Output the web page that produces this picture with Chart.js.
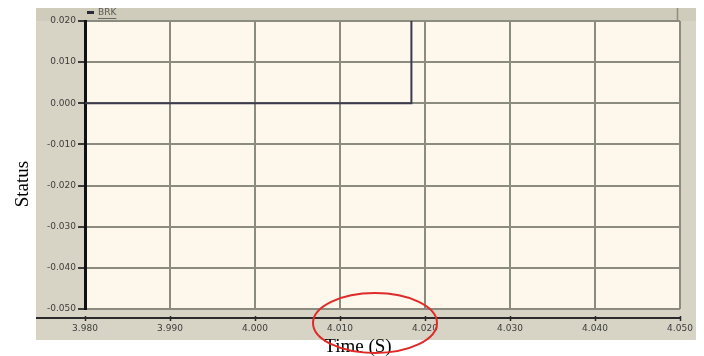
<!DOCTYPE html>
<html>
<head>
<meta charset="utf-8">
<script src="https://cdn.jsdelivr.net/npm/chart.js@4/dist/chart.umd.min.js"></script>
<style>
  html, body { margin: 0; padding: 0; background: #ffffff; }
  #wrap { width: 704px; height: 356px; position: relative; }
</style>
</head>
<body>
<div id="wrap"><canvas id="c" width="704" height="356"></canvas></div>
<script>
// BRK breaker status trace
const seriesName = 'BRK';
const timeS = [3.980, 4.0184, 4.0184];
const brkStatus = [0.000, 0.000, 0.020];

// axis ticks
const xTickValues = [3.980, 3.990, 4.000, 4.010, 4.020, 4.030, 4.040, 4.050];
const yTickValues = [0.020, 0.010, 0.000, -0.010, -0.020, -0.030, -0.040, -0.050];

const xTitle = 'Time (S)';
const yTitle = 'Status';

const points = timeS.map((t, i) => ({ x: t, y: brkStatus[i] }));

// panel, plot fill, separate x axis rule, titles, legend and highlight ring
const decor = {
  id: 'decor',
  beforeDraw(chart) {
    const { ctx, chartArea: a } = chart;
    ctx.save();
    ctx.fillStyle = '#d7d4c5';
    ctx.fillRect(36, 8, 660, 332);
    ctx.fillStyle = '#cfccbb';
    ctx.fillRect(36, 8, 660, 13);
    ctx.fillStyle = '#fdf7ec';
    ctx.fillRect(a.left, a.top, a.right - a.left, a.bottom - a.top);
    ctx.restore();
  },
  afterDraw(chart) {
    const { ctx, chartArea: a } = chart;
    const xs = chart.scales.x;
    ctx.save();
    // upper band divider
    ctx.strokeStyle = '#8f8d80';
    ctx.lineWidth = 1.5;
    ctx.beginPath();
    ctx.moveTo(677.5, 8);
    ctx.lineTo(677.5, a.top);
    ctx.stroke();

    // x axis rule below the plot
    ctx.strokeStyle = '#2a2a2a';
    ctx.lineWidth = 2;
    ctx.beginPath();
    ctx.moveTo(36, 318);
    ctx.lineTo(a.right, 318);
    ctx.stroke();
    ctx.lineWidth = 1.5;
    xTickValues.forEach(v => {
      const px = Math.round(xs.getPixelForValue(v)) + 0.5;
      ctx.beginPath();
      ctx.moveTo(px, 316);
      ctx.lineTo(px, 321);
      ctx.stroke();
    });

    // legend
    ctx.fillStyle = '#2a2a3a';
    ctx.fillRect(87, 11, 7, 3);
    ctx.font = '9px "DejaVu Sans", sans-serif';
    ctx.fillStyle = '#5a5a5a';
    ctx.textBaseline = 'middle';
    ctx.textAlign = 'left';
    ctx.fillText(seriesName, 98, 13);
    const w = ctx.measureText(seriesName).width;
    ctx.strokeStyle = '#6a6a6a';
    ctx.lineWidth = 1;
    ctx.beginPath();
    ctx.moveTo(98, 18.5);
    ctx.lineTo(98 + w, 18.5);
    ctx.stroke();

    // axis titles
    ctx.fillStyle = '#000000';
    ctx.font = '19px "Liberation Serif", "Times New Roman", serif';
    ctx.textAlign = 'center';
    ctx.textBaseline = 'alphabetic';
    ctx.fillText(xTitle, 358, 352);
    ctx.save();
    ctx.translate(28, 184);
    ctx.rotate(-Math.PI / 2);
    ctx.fillText(yTitle, 0, 0);
    ctx.restore();

    // highlight ring
    ctx.strokeStyle = '#e02a2a';
    ctx.lineWidth = 2;
    ctx.beginPath();
    ctx.ellipse(375, 323, 62, 30, 0, 0, Math.PI * 2);
    ctx.stroke();
    ctx.restore();
  }
};

const tickFont = { family: '"DejaVu Sans", sans-serif', size: 9 };

new Chart(document.getElementById('c'), {
  type: 'line',
  data: {
    datasets: [{
      label: seriesName,
      data: points,
      borderColor: '#3b3b4e',
      borderWidth: 2,
      pointRadius: 0,
      tension: 0,
      fill: false
    }]
  },
  options: {
    responsive: false,
    animation: false,
    devicePixelRatio: 1,
    layout: { padding: { top: 21, right: 24, left: 0, bottom: 0 } },
    plugins: { legend: { display: false }, tooltip: { enabled: false } },
    scales: {
      x: {
        type: 'linear',
        min: 3.980,
        max: 4.050,
        afterFit(scale) { scale.height = 47; },
        afterBuildTicks(scale) { scale.ticks = xTickValues.map(v => ({ value: v })); },
        grid: { color: '#8c8b80', lineWidth: 2, tickLength: 10, tickColor: 'rgba(0,0,0,0)' },
        border: { display: false },
        ticks: {
          padding: 4,
          maxRotation: 0,
          autoSkip: false,
          color: '#3c3c3c',
          font: tickFont,
          callback: v => Number(v).toFixed(3)
        }
      },
      y: {
        type: 'linear',
        min: -0.050,
        max: 0.020,
        afterFit(scale) { scale.width = 85; },
        afterBuildTicks(scale) { scale.ticks = yTickValues.map(v => ({ value: v })); },
        grid: { color: '#8c8b80', lineWidth: 2, tickLength: 7, tickColor: '#3a3a3a' },
        border: { display: true, color: '#111111', width: 3 },
        ticks: {
          padding: 2,
          autoSkip: false,
          color: '#3c3c3c',
          font: tickFont,
          callback: v => Number(v).toFixed(3)
        }
      }
    }
  },
  plugins: [decor]
});
</script>
</body>
</html>
